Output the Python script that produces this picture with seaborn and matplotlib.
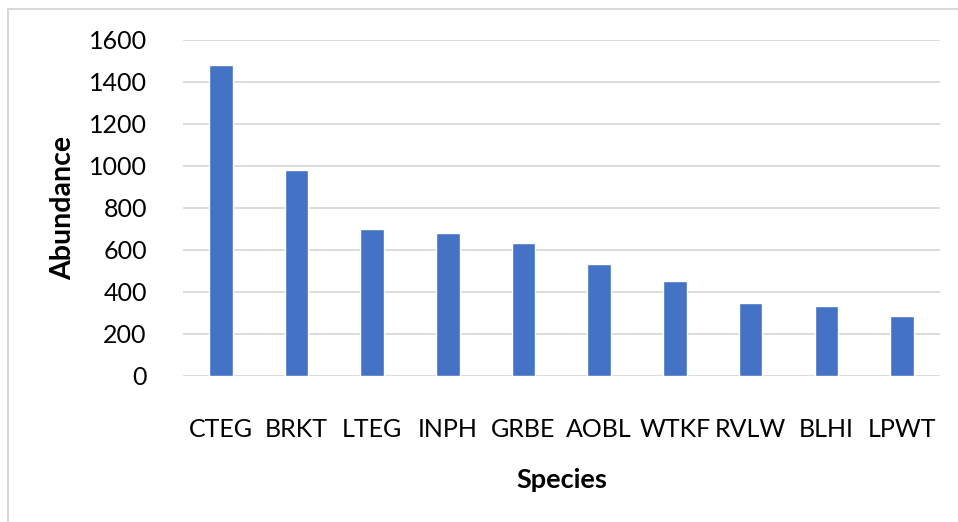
import matplotlib
matplotlib.use("Agg")
import matplotlib.pyplot as plt
from matplotlib.lines import Line2D
import seaborn as sns
import pandas as pd

species = ["CTEG", "BRKT", "LTEG", "INPH", "GRBE", "AOBL", "WTKF", "RVLW", "BLHI", "LPWT"]
abundance = [1480, 982, 700, 680, 632, 532, 452, 347, 335, 285]
yticks = [0, 200, 400, 600, 800, 1000, 1200, 1400, 1600]

sns.set_theme(style="white")
plt.rcParams["font.family"] = ["Lato", "DejaVu Sans"]
plt.rcParams["text.color"] = "#000000"

df = pd.DataFrame({"Species": species, "Abundance": abundance})

fig = plt.figure(figsize=(9.58, 5.22), dpi=100)
ax = fig.add_axes([0.191, 0.2797, 0.790, 0.6437])
sns.barplot(data=df, x="Species", y="Abundance", color="#4472C4", saturation=1,
            width=0.31, ax=ax, zorder=3)
ax.set_ylim(0, 1600)
ax.set_xlim(-0.5, len(species) - 0.5)
ax.set_yticks(yticks)
ax.set_yticklabels([str(t) for t in yticks])
ax.tick_params(axis="x", labelsize=18, labelcolor="#000000", pad=30, length=0)
ax.tick_params(axis="y", labelsize=18, labelcolor="#000000", length=0, pad=26)
for t in yticks:
    ax.axhline(t, color="#d9d9d9", lw=1.3, zorder=1)
for s in ax.spines.values():
    s.set_visible(False)
ax.set_xlabel("Species", fontsize=19.5, fontweight="bold", color="#000000", labelpad=20)
ax.set_ylabel("Abundance", fontsize=20.5, fontweight="bold", color="#000000", labelpad=9)

W, H = 958, 522
fig.lines.append(Line2D([8 / W, 1.0], [1 - 9 / H, 1 - 9 / H], transform=fig.transFigure,
                        color="#d9d9d9", lw=1.5))
fig.lines.append(Line2D([8 / W, 8 / W], [0.0, 1 - 9 / H], transform=fig.transFigure,
                        color="#d9d9d9", lw=1.5))
fig.savefig("out.png", dpi=100)
